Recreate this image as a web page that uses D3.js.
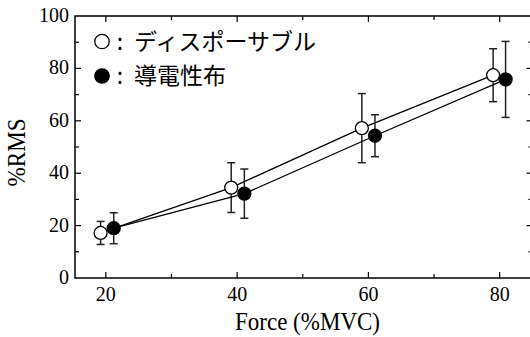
<!DOCTYPE html>
<html>
<head>
<meta charset="utf-8">
<script src="https://cdn.jsdelivr.net/npm/d3@7"></script>
<style>
  html, body { margin: 0; padding: 0; background: #fff; }
  svg { display: block; }
</style>
</head>
<body>
<div id="chart"></div>
<script>
// data (mean and SD)
const seriesNames = ["ディスポーサブル", "導電性布"]
const forceOpen = [19.2, 39.1, 59.0, 79.0]
const rmsOpen = [17.2, 34.5, 57.2, 77.4]
const sdOpen = [4.4, 9.5, 13.2, 10.1]
const forceFilled = [21.2, 41.1, 61.0, 80.9]
const rmsFilled = [19.0, 32.2, 54.3, 75.8]
const sdFilled = [5.9, 9.4, 8.0, 14.5]
const xTicks = [20, 40, 60, 80]
const xMinor = [30, 50, 70]
const yTicks = [0, 20, 40, 60, 80, 100]
const yMinor = [10, 30, 50, 70, 90]

const W = 530, H = 337
const margin = { top: 16, right: -2.5, bottom: 59, left: 75 }

const svg = d3.select("#chart").append("svg")
  .attr("width", W)
  .attr("height", H)

const x = d3.scaleLinear([15.3, 85], [margin.left, W - margin.right])
const y = d3.scaleLinear([0, 100], [H - margin.bottom, margin.top])

const serif = "'Liberation Serif', 'Times New Roman', serif"
const jp = "'Noto Sans CJK JP', sans-serif"

// frame
svg.append("rect")
  .attr("x", x.range()[0])
  .attr("y", y.range()[1])
  .attr("width", x.range()[1] - x.range()[0])
  .attr("height", y.range()[0] - y.range()[1])
  .attr("fill", "none")
  .attr("stroke", "#000")
  .attr("stroke-width", 1.5)

// inward ticks on all four sides
const tickG = svg.append("g").attr("stroke", "#000").attr("stroke-width", 1.2)
const addXTicks = (vals, len) => {
  vals.forEach(v => {
    tickG.append("line").attr("x1", x(v)).attr("x2", x(v))
      .attr("y1", y(0)).attr("y2", y(0) - len)
    tickG.append("line").attr("x1", x(v)).attr("x2", x(v))
      .attr("y1", y(100)).attr("y2", y(100) + len)
  })
}
const addYTicks = (vals, len) => {
  vals.forEach(v => {
    tickG.append("line").attr("y1", y(v)).attr("y2", y(v))
      .attr("x1", x(15.3)).attr("x2", x(15.3) + len)
    tickG.append("line").attr("y1", y(v)).attr("y2", y(v))
      .attr("x1", x(85)).attr("x2", x(85) - len)
  })
}
addXTicks(xTicks, 6)
addXTicks(xMinor, 4)
addYTicks(yTicks.slice(1, -1), 6)
addYTicks(yMinor, 4)

// tick labels
svg.append("g").selectAll("text")
  .data(xTicks)
  .join("text")
  .attr("x", d => x(d))
  .attr("y", 301)
  .attr("text-anchor", "middle")
  .attr("font-family", serif)
  .attr("font-size", 20)
  .text(d => d)

svg.append("g").selectAll("text")
  .data(yTicks)
  .join("text")
  .attr("x", 69)
  .attr("y", d => y(d) + 6)
  .attr("text-anchor", "end")
  .attr("font-family", serif)
  .attr("font-size", 20)
  .text(d => d)

// axis titles (slightly narrow glyphs in the original)
svg.append("text")
  .attr("x", 235)
  .attr("y", 330)
  .attr("font-family", serif)
  .attr("font-size", 25)
  .attr("textLength", 145)
  .attr("lengthAdjust", "spacingAndGlyphs")
  .text("Force (%MVC)")

svg.append("text")
  .attr("transform", "translate(25, 186.5) rotate(-90)")
  .attr("font-family", serif)
  .attr("font-size", 25)
  .attr("textLength", 68)
  .attr("lengthAdjust", "spacingAndGlyphs")
  .text("%RMS")

// series
const series = [
  { xs: forceOpen, ys: rmsOpen, sd: sdOpen, fill: "#fff" },
  { xs: forceFilled, ys: rmsFilled, sd: sdFilled, fill: "#000" }
]

const line = d3.line().x(d => x(d[0])).y(d => y(d[1]))

series.forEach(s => {
  const pts = s.xs.map((v, i) => [v, s.ys[i], s.sd[i]])
  svg.append("path")
    .datum(pts)
    .attr("d", line)
    .attr("fill", "none")
    .attr("stroke", "#000")
    .attr("stroke-width", 1.3)

  const eb = svg.append("g").attr("stroke", "#222").attr("stroke-width", 1.5)
  pts.forEach(p => {
    eb.append("line").attr("x1", x(p[0])).attr("x2", x(p[0]))
      .attr("y1", y(p[1] + p[2])).attr("y2", y(p[1] - p[2]))
    ;[p[1] + p[2], p[1] - p[2]].forEach(v => {
      eb.append("line").attr("x1", x(p[0]) - 4).attr("x2", x(p[0]) + 4)
        .attr("y1", y(v)).attr("y2", y(v))
    })
  })
})

series.forEach(s => {
  svg.append("g").selectAll("circle")
    .data(s.xs.map((v, i) => [v, s.ys[i]]))
    .join("circle")
    .attr("cx", d => x(d[0]))
    .attr("cy", d => y(d[1]))
    .attr("r", 6.5)
    .attr("fill", s.fill)
    .attr("stroke", "#000")
    .attr("stroke-width", 1.3)
})

// legend
const legend = svg.append("g")
seriesNames.forEach((name, i) => {
  const cy = 41.5 + i * 34.5
  legend.append("circle")
    .attr("cx", 102)
    .attr("cy", cy)
    .attr("r", 7.2)
    .attr("fill", i === 0 ? "#fff" : "#000")
    .attr("stroke", "#000")
    .attr("stroke-width", 1.3)
  legend.append("text")
    .attr("x", 120)
    .attr("y", cy + 8)
    .attr("text-anchor", "middle")
    .attr("font-family", jp)
    .attr("font-size", 23)
    .text(":")
  legend.append("text")
    .attr("x", 134)
    .attr("y", cy + 8)
    .attr("font-family", jp)
    .attr("font-size", 23)
    .text(name)
})
</script>
</body>
</html>
